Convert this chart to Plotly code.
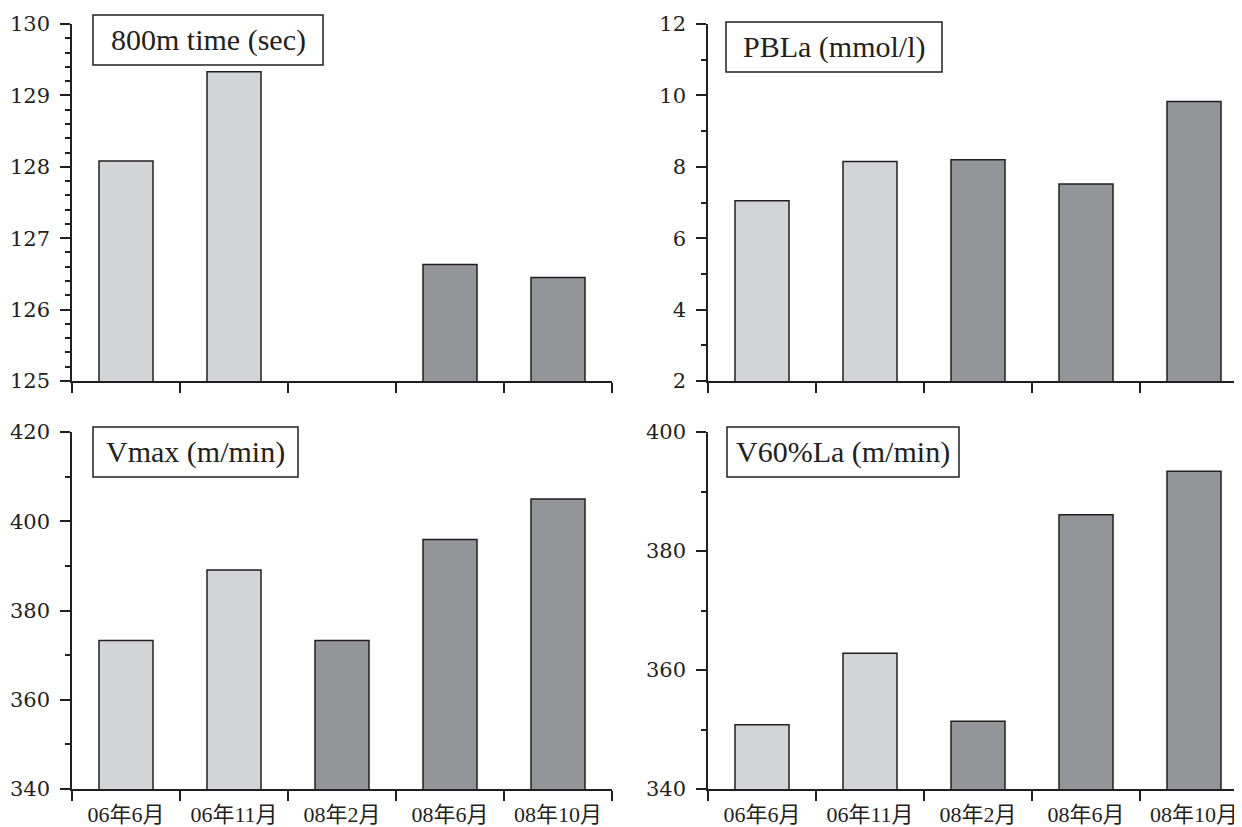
import plotly.graph_objects as go

categories = ["06年6月", "06年11月", "08年2月", "08年6月", "08年10月"]
time_800m = [128.08, 129.33, None, 126.63, 126.45]
pbla = [7.05, 8.15, 8.2, 7.52, 9.83]
vmax = [373.3, 389.1, 373.3, 395.9, 405.0]
v60la = [350.8, 362.8, 351.4, 386.1, 393.4]
bar_colors = ["#d3d4d6", "#d3d4d6", "#939598", "#939598", "#939598"]

panel_titles = ["800m time (sec)", "PBLa (mmol/l)", "Vmax (m/min)", "V60%La (m/min)"]

W, H = 1242, 827
OX, OY = 8, 8  # page body margin offset
INK = "#231f20"

def px_x(p):
    return (p - OX) / W

def px_y(p):
    return 1 - (p - OY) / H

fig = go.Figure()

series = [time_800m, pbla, vmax, v60la]
for i, vals in enumerate(series):
    sfx = "" if i == 0 else str(i + 1)
    fig.add_trace(go.Bar(
        x=categories, y=vals,
        marker=dict(color=bar_colors, line=dict(color=INK, width=1.5)),
        width=0.5,
        xaxis="x" + sfx, yaxis="y" + sfx,
        showlegend=False, hoverinfo="x+y",
    ))

tick_font = dict(family="DejaVu Serif, serif", size=21, color=INK)
xtick_font = dict(family="Liberation Serif, Noto Sans CJK JP, serif", size=22, color=INK)

left_dom = [px_x(72), px_x(612)]
right_end = W + OX
right_dom = [px_x(708), 1.0]
top_dom = [px_y(381), px_y(24)]
bot_dom = [px_y(789), px_y(432)]

def xax(domain, anchor, rng, show_labels):
    return dict(
        domain=domain, anchor=anchor, type="category",
        range=rng, tickson="boundaries",
        ticks="outside", ticklen=10, tickwidth=1.5, tickcolor=INK,
        showline=True, linecolor=INK, linewidth=1.5,
        showgrid=False, zeroline=False, automargin=False,
        showticklabels=show_labels, tickfont=xtick_font,
        ticklabelstandoff=5,
        fixedrange=True,
    )

def yax(domain, anchor, rng, dtick, minor_dtick):
    return dict(
        domain=domain, anchor=anchor, range=rng,
        tick0=rng[0], dtick=dtick,
        ticks="outside", ticklen=10, tickwidth=1.5, tickcolor=INK,
        minor=dict(ticks="outside", ticklen=5, tickwidth=1.5, tickcolor=INK,
                   dtick=minor_dtick, tick0=rng[0], showgrid=False),
        showline=True, linecolor=INK, linewidth=1.5,
        showgrid=False, zeroline=False, automargin=False,
        tickfont=tick_font, ticklabelstandoff=6,
        fixedrange=True,
    )

rng_left = [-0.5, 4.5]
rng_right = [-0.5, -0.5 + (right_end - 708) / 108]

fig.update_layout(
    width=W, height=H,
    margin=dict(l=0, r=0, t=0, b=0, autoexpand=False),
    paper_bgcolor="white", plot_bgcolor="white",
    xaxis=xax(left_dom, "y", rng_left, False),
    yaxis=yax(top_dom, "x", [125, 130], 1, 0.2),
    xaxis2=xax(right_dom, "y2", rng_right, False),
    yaxis2=yax(top_dom, "x2", [2, 12], 2, 1),
    xaxis3=xax(left_dom, "y3", rng_left, True),
    yaxis3=yax(bot_dom, "x3", [340, 420], 20, 10),
    xaxis4=xax(right_dom, "y4", rng_right, True),
    yaxis4=yax(bot_dom, "x4", [340, 400], 20, 10),
)

boxes = [(93, 15, 323, 65), (726, 22, 942, 72), (93, 427, 298, 477), (727, 427, 959, 477)]
for (x0, y0, x1, y1), title in zip(boxes, panel_titles):
    fig.add_shape(type="rect", xref="paper", yref="paper",
                  x0=px_x(x0), x1=px_x(x1), y0=px_y(y1), y1=px_y(y0),
                  line=dict(color=INK, width=1.5), fillcolor="white", layer="above")
    fig.add_annotation(xref="paper", yref="paper",
                       x=px_x((x0 + x1) / 2), y=px_y((y0 + y1) / 2),
                       text=title, showarrow=False,
                       xanchor="center", yanchor="middle",
                       font=dict(family="Liberation Serif, serif", size=30, color=INK))

fig.write_html("out.html")
